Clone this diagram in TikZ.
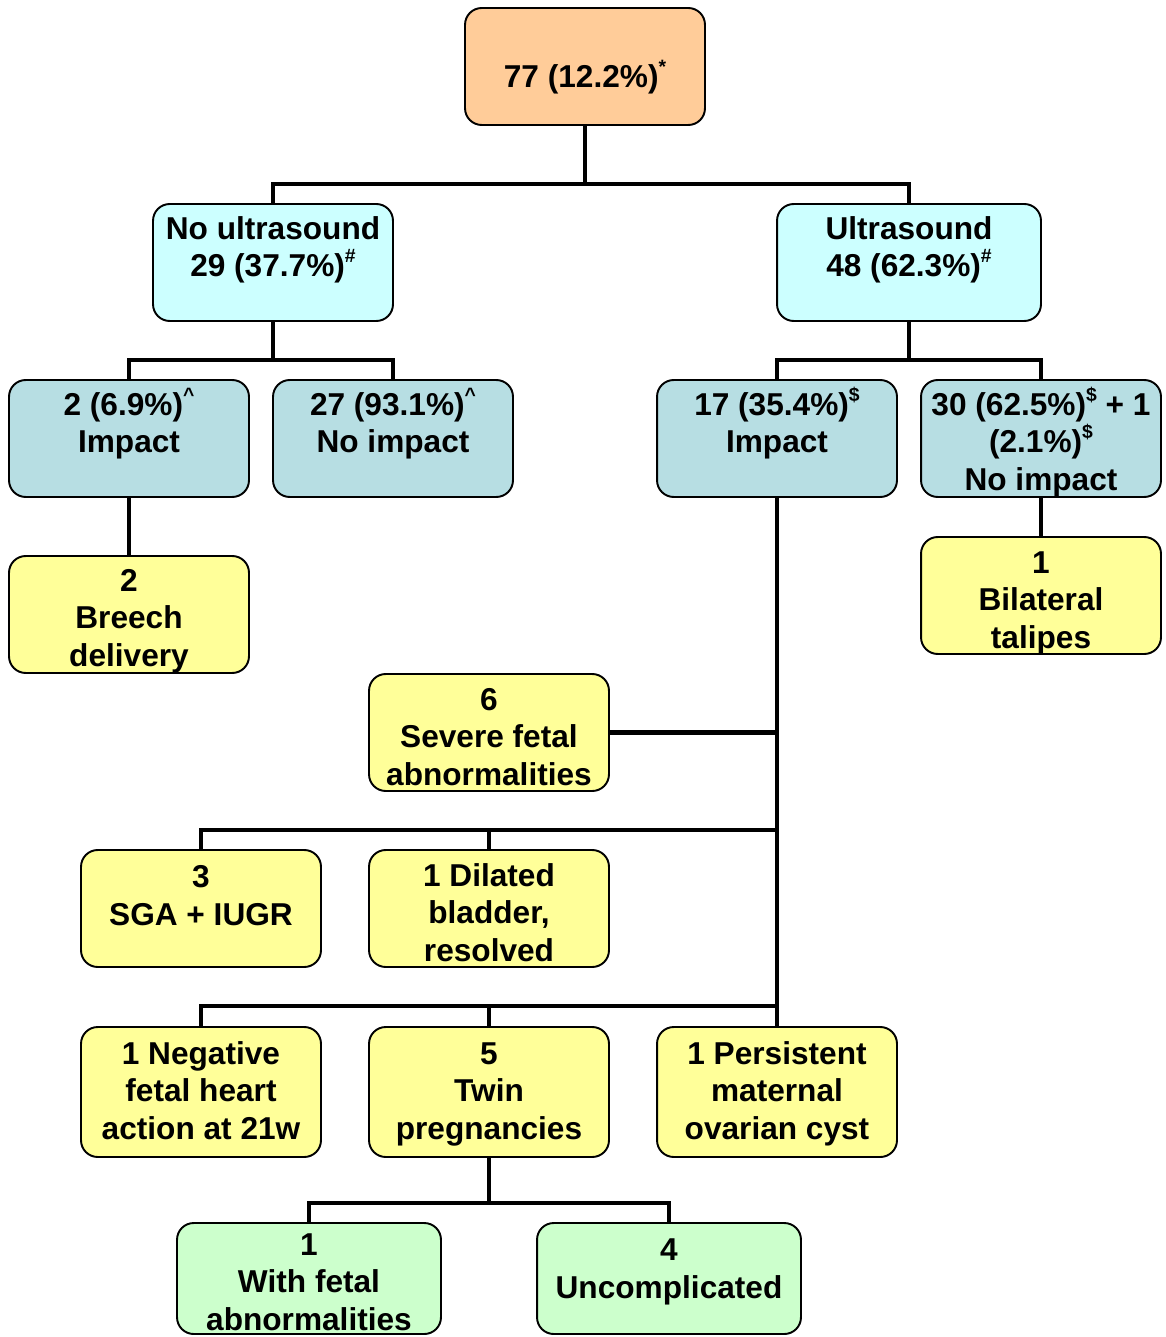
\documentclass[tikz,border=0pt]{standalone}
\usepackage{fontspec}
\setmainfont{Liberation Sans}
\usetikzlibrary{backgrounds}
\definecolor{corange}{HTML}{FFCC99}
\definecolor{ccyan}{HTML}{CCFFFF}
\definecolor{cgrey}{HTML}{B7DEE3}
\definecolor{cyellow}{HTML}{FFFF99}
\definecolor{cgreen}{HTML}{CCFFCC}
\newcommand\spp[1]{\raisebox{0.45em}[0pt][0pt]{\fontsize{11}{11}\selectfont #1}}
\begin{document}
\begin{tikzpicture}[x=0.02cm,y=-0.02cm,
  box/.style={draw=black, line width=1.1pt, rounded corners=9.5pt, inner sep=0pt, outer sep=0pt,
              minimum width=4.8cm, minimum height=2.34cm},
  wide/.style={minimum width=5.28cm},
  tall/.style={minimum height=2.6cm},
  txt/.style={anchor=base, align=center, inner sep=0pt, font=\bfseries\fontsize{18}{21.2}\selectfont},
  conn/.style={line width=2.7pt, line cap=rect}]
\useasboundingbox (0,0) rectangle (1165,1337);
\clip (0,0) rectangle (1165,1337);

% boxes
\node[box, fill=corange] (root) at (585,66.5) {};
\node[box, fill=ccyan] (nous) at (273,262.5) {};
\node[box, wide, fill=ccyan] (us) at (909,262.5) {};
\node[box, fill=cgrey] (imp1) at (129,438.5) {};
\node[box, fill=cgrey] (noimp1) at (393,438.5) {};
\node[box, fill=cgrey] (imp2) at (777,438.5) {};
\node[box, fill=cgrey] (noimp2) at (1041,438.5) {};
\node[box, fill=cyellow] (breech) at (129,614.5) {};
\node[box, fill=cyellow] (talipes) at (1041,595.5) {};
\node[box, fill=cyellow] (severe) at (489,732.5) {};
\node[box, fill=cyellow] (sga) at (201,908.5) {};
\node[box, fill=cyellow] (bladder) at (489,908.5) {};
\node[box, tall, fill=cyellow] (neg) at (201,1092) {};
\node[box, tall, fill=cyellow] (twin) at (489,1092) {};
\node[box, tall, fill=cyellow] (cyst) at (777,1092) {};
\node[box, wide, fill=cgreen, minimum height=2.22cm] (withf) at (309,1278.5) {};
\node[box, wide, fill=cgreen, minimum height=2.22cm] (uncomp) at (669,1278.5) {};

% junctions
\coordinate (j1) at (585,184);
\coordinate (j2) at (273,360);
\coordinate (j3) at (909,360);
\coordinate (j5) at (777,830);
\coordinate (j6) at (777,1006);
\coordinate (j7) at (489,1203);

% connectors (behind boxes)
\begin{scope}[on background layer]
\draw[conn] (root.south) -- (j1);
\draw[conn] (nous.north) |- (j1) -| (us.north);
\draw[conn] (nous.south) -- (j2);
\draw[conn] (imp1.north) |- (j2) -| (noimp1.north);
\draw[conn] (us.south) -- (j3);
\draw[conn] (imp2.north) |- (j3) -| (noimp2.north);
\draw[conn] (imp1.south) -- (breech.north);
\draw[conn] (noimp2.south) -- (talipes.north);
\draw[conn] (imp2.south) -- (cyst.north);
\draw[conn] (severe.east) -- (severe.east -| imp2.south);
\draw[conn] (sga.north) |- (j5);
\draw[conn] (bladder.north) -- (bladder.north |- j5);
\draw[conn] (neg.north) |- (j6);
\draw[conn] (twin.north) -- (twin.north |- j6);
\draw[conn] (twin.south) -- (j7);
\draw[conn] (withf.north) |- (j7) -| (uncomp.north);
\end{scope}

% texts (anchored at the baseline of their last line)
\node[txt] (troot) at (585,88) {77 (12.2\%)\spp{*}};
\node[txt] (tnous) at (273,277) {No ultrasound\\29 (37.7\%)\spp{\#}};
\node[txt] (tus) at (909,277) {Ultrasound\\48 (62.3\%)\spp{\#}};
\node[txt] (timp1) at (129,453) {2 (6.9\%)\spp{\textasciicircum}\\Impact};
\node[txt] (tnoimp1) at (393,453) {27 (93.1\%)\spp{\textasciicircum}\\No impact};
\node[txt] (timp2) at (777,453) {17 (35.4\%)\spp{\$}\\Impact};
\node[txt] (tnoimp2) at (1041,490) {30 (62.5\%)\spp{\$} + 1\\(2.1\%)\spp{\$}\\No impact};
\node[txt] (tbreech) at (129,666) {2\\Breech\\delivery};
\node[txt] (ttalipes) at (1041,648) {1\\Bilateral\\talipes};
\node[txt] (tsevere) at (489,785) {6\\Severe fetal\\abnormalities};
\node[txt] (tsga) at (201,925) {3\\SGA + IUGR};
\node[txt] (tbladder) at (489,961) {1 Dilated\\bladder,\\resolved};
\node[txt] (tneg) at (201,1139) {1 Negative\\fetal heart\\action at 21w};
\node[txt] (ttwin) at (489,1139) {5\\Twin\\pregnancies};
\node[txt] (tcyst) at (777,1139) {1 Persistent\\maternal\\ovarian cyst};
\node[txt] (twithf) at (309,1330) {1\\With fetal\\abnormalities};
\node[txt] (tuncomp) at (669,1298) {4\\Uncomplicated};
\end{tikzpicture}
\end{document}
